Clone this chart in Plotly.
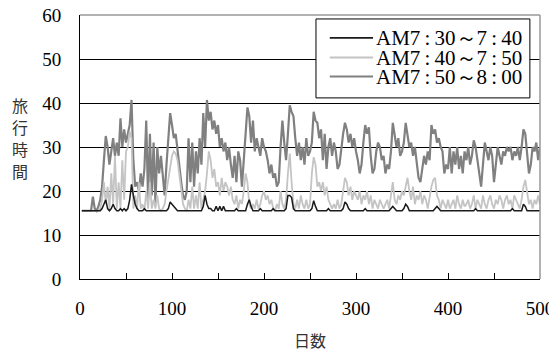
import plotly.graph_objects as go

days = list(range(2, 502, 2))

am750_800 = [
    15.5, 15.5, 15.5, 15.5, 15.5, 15.5, 18.7, 16.0, 15.5, 16.5,
    18, 21, 27, 32.5, 30, 26, 29, 32, 28, 31,
    28, 36.5, 30, 34, 31, 33, 35, 40.7, 27, 21,
    22, 20, 24, 21, 25, 36, 18, 33, 19, 31,
    17, 30, 24, 28, 23, 19, 26, 33, 37.7, 35,
    32, 33, 29, 26, 22, 19, 18, 20, 32, 22,
    31, 21, 29, 24, 32, 26, 37.7, 30, 40.7, 36,
    38, 34, 36, 33, 35, 30, 32, 29, 31, 27,
    30, 26, 23, 28, 22, 29, 27, 21, 28, 33,
    39, 37, 31, 36, 29, 32, 30, 28, 32, 30,
    29, 27, 24, 26, 23, 24, 21, 22, 30, 36,
    31, 27, 33, 39.5, 38, 37, 32, 28, 31, 27,
    30, 26, 32, 28, 29, 31, 38, 36, 35.5, 32,
    34, 27, 33, 25, 30, 32, 28, 31, 29, 25,
    26, 30, 33, 35.5, 34, 31, 33, 30, 32, 29,
    27, 24, 26, 31, 35, 33, 34.5, 28, 24, 25,
    29, 31, 30, 27, 28, 24, 26, 25, 29, 35.5,
    33, 30, 32, 28, 29, 31, 35.5, 33, 30, 31,
    28, 30, 26, 23, 22, 25, 28, 26, 29, 27,
    35, 33, 34, 31, 32, 30, 29, 24, 26, 25,
    30, 24, 29, 26, 30, 25, 28, 24, 29, 27,
    30, 26, 28, 31.5, 30, 27, 24, 21, 26, 31,
    29, 27, 30, 28, 22, 27, 30, 28, 26, 29,
    28, 30, 29, 30, 27, 29, 28, 30, 27, 30,
    34, 33, 28, 24, 26, 30, 29, 31, 27, 30,
]

am740_750 = [
    15.5, 15.5, 15.5, 15.5, 15.5, 15.5, 15.5, 15.5, 15.5, 15.5,
    16, 18, 22, 17, 21, 16, 24, 17, 28, 16,
    22, 16, 27, 18, 29, 30, 33.5, 32, 16, 19,
    16, 22, 16, 17, 15.5, 20, 16, 22, 16, 18,
    16, 19, 16, 15.5, 16, 17, 20, 23, 26, 28,
    29, 28.5, 27, 24, 20, 17, 16, 15.5, 18, 16,
    21, 16, 19, 16, 22, 16, 18, 20, 24, 29,
    27, 23, 25, 21, 22, 19, 23, 20, 22, 21,
    19, 21, 18, 17, 19, 16, 18, 17, 20, 24,
    22, 17, 16, 17, 16, 18, 16, 17, 19, 20,
    18, 19, 17, 18, 16, 15.5, 17, 16, 20, 17,
    16, 18, 24, 28.5, 22, 17, 16, 18, 16, 19,
    17, 16, 18, 16, 17, 24, 27.7, 26, 21, 22,
    20, 22, 19, 21, 18, 17, 16, 17, 16, 18,
    16, 17, 20, 23, 22, 19, 21, 18, 20, 19,
    18, 20, 17, 19, 18, 20, 17, 19, 16, 18,
    17, 16, 18, 17, 16, 17, 18, 16, 19, 22,
    18, 17, 19, 18, 20, 19, 21, 23, 20, 18,
    21, 17, 19, 18, 20, 17, 19, 18, 16, 19,
    21, 22.5, 23, 19, 18, 16, 18, 17, 16, 18,
    16, 17, 18, 16, 19, 17, 16, 18, 16.5, 17,
    18, 16, 17, 19, 16, 18, 17, 16, 19, 17,
    16, 18, 19, 17, 16, 18, 17, 19, 18, 16,
    18, 19, 17, 18, 16, 19, 18, 17, 16, 18,
    21, 22.5, 20, 17, 18, 16, 18, 17, 19, 17,
]

am730_740 = [
    15.5, 15.5, 15.5, 15.5, 15.5, 15.5, 15.5, 15.5, 15.5, 15.5,
    15.5, 16, 17, 18, 16, 15.5, 16, 17, 16, 15.5,
    15.5, 16, 15.5, 16, 15.5, 16, 18, 21.5, 19, 17,
    16, 15.5, 15.5, 15.5, 16, 15.5, 15.5, 15.5, 15.5, 15.5,
    15.5, 15.5, 15.5, 15.5, 15.5, 15.5, 15.5, 16, 17.5, 17,
    16.5, 16, 15.5, 15.5, 15.5, 15.5, 15.5, 15.5, 15.5, 15.5,
    15.5, 15.5, 15.5, 15.5, 15.5, 15.5, 16.5, 19, 17, 16,
    16, 15.5, 15.5, 16.5, 15.5, 16.5, 15.5, 16.5, 15.5, 15.5,
    15.5, 15.5, 15.5, 15.5, 16, 15.5, 15.5, 15.5, 15.5, 15.5,
    17, 18, 16.5, 15.5, 15.5, 15.5, 15.5, 16, 15.5, 15.5,
    15.5, 15.5, 15.5, 15.5, 16, 15.5, 15.5, 15.5, 15.5, 15.5,
    15.5, 16, 19, 19, 18.5, 16, 15.5, 15.5, 15.5, 15.5,
    15.5, 15.5, 15.5, 15.5, 15.5, 16, 17.8, 16.5, 15.5, 15.5,
    15.5, 15.5, 15.5, 15.5, 16, 15.5, 15.5, 15.5, 15.5, 15.5,
    15.5, 15.5, 16, 17.5, 17, 16, 15.5, 15.5, 15.5, 15.5,
    15.5, 15.5, 15.5, 15.5, 16, 15.5, 15.5, 15.5, 15.5, 15.5,
    15.5, 15.5, 15.5, 15.5, 15.5, 15.5, 15.5, 15.5, 16, 16.5,
    16, 15.5, 15.5, 15.5, 15.5, 16, 17, 16.5, 15.5, 15.5,
    15.5, 15.5, 15.5, 15.5, 15.5, 15.5, 15.5, 15.5, 15.5, 15.5,
    15.5, 15.5, 16, 16.5, 16, 15.5, 15.5, 15.5, 15.5, 15.5,
    15.5, 15.5, 15.5, 15.5, 15.5, 15.5, 15.5, 15.5, 15.5, 15.5,
    15.5, 15.5, 15.5, 15.5, 16, 15.5, 15.5, 15.5, 15.5, 15.5,
    15.5, 15.5, 15.5, 15.5, 15.5, 15.5, 15.5, 15.5, 15.5, 15.5,
    15.5, 15.5, 15.5, 15.5, 16, 15.5, 15.5, 15.5, 15.5, 15.5,
    17, 16.5, 15.5, 15.5, 15.5, 15.5, 15.5, 15.5, 15.5, 15.5,
]

names = ["AM7\u2009:\u200930～7\u2009:\u200940",
         "AM7\u2009:\u200940～7\u2009:\u200950",
         "AM7\u2009:\u200950～8\u2009:\u200900"]
colors = ["#1a1a1a", "#c4c4c4", "#808080"]
x_ticks = [0, 100, 200, 300, 400, 500]
y_ticks = [0, 10, 20, 30, 40, 50, 60]
x_title = "日数"
y_title_chars = ["旅", "行", "時", "間"]

serif = "Liberation Serif"
jp = "Noto Sans CJK JP"

fig = go.Figure()
fig.add_trace(go.Scatter(x=days, y=am750_800, mode="lines", name=names[2],
                         line=dict(color=colors[2], width=2.2)))
fig.add_trace(go.Scatter(x=days, y=am740_750, mode="lines", name=names[1],
                         line=dict(color=colors[1], width=1.8)))
fig.add_trace(go.Scatter(x=days, y=am730_740, mode="lines", name=names[0],
                         line=dict(color=colors[0], width=1.5)))

annotations = []
for i, ch in enumerate(y_title_chars):
    annotations.append(dict(text=ch, xref="paper", yref="paper",
                            x=-0.13, y=0.659 - i * 0.0835,
                            xanchor="center", yanchor="middle", showarrow=False,
                            font=dict(family=jp, size=16, color="#333333")))
annotations.append(dict(text=x_title, xref="paper", yref="paper", x=0.5, y=-0.231,
                        xanchor="center", yanchor="middle", showarrow=False,
                        font=dict(family=jp, size=16, color="#333333")))

shapes = [
    dict(type="line", xref="paper", yref="paper", x0=0, x1=1, y0=1, y1=1,
         line=dict(color="#999999", width=1.5), layer="above"),
    dict(type="line", xref="paper", yref="paper", x0=1, x1=1, y0=0, y1=1,
         line=dict(color="#999999", width=1.5), layer="above"),
    dict(type="rect", xref="paper", yref="paper", x0=0.513, x1=0.978,
         y0=0.686, y1=0.985, line=dict(color="black", width=1),
         fillcolor="white", layer="above"),
]
row_y = [0.913, 0.839, 0.767]
for name, col, yy in zip(names, colors, row_y):
    shapes.append(dict(type="line", xref="paper", yref="paper", x0=0.543, x1=0.637,
                       y0=yy, y1=yy, line=dict(color=col, width=1.8), layer="above"))
    annotations.append(dict(text=name, xref="paper", yref="paper", x=0.639, y=yy,
                            xanchor="left", yanchor="middle", showarrow=False,
                            font=dict(family=serif, size=21, color="black")))

fig.update_layout(
    width=549, height=343,
    margin=dict(l=72, r=17, t=7, b=72, autoexpand=False),
    paper_bgcolor="white", plot_bgcolor="white",
    font=dict(family=serif, size=19, color="black"),
    showlegend=False,
    xaxis=dict(range=[0, 500], tickvals=x_ticks, ticks="inside", ticklen=6,
               tickcolor="black", showline=True, linecolor="black", linewidth=1,
               showgrid=False, zeroline=False, automargin=False,
               minor=dict(dtick=50, ticks="inside", ticklen=6, tickcolor="black"),
               ticklabelstandoff=12, ticklabeloverflow="allow",
               tickfont=dict(family=serif, size=19)),
    yaxis=dict(range=[0, 60], tickvals=y_ticks, showgrid=True, gridcolor="black",
               gridwidth=1, showline=True, linecolor="black", linewidth=1,
               zeroline=False, ticks="", automargin=False, ticklabelstandoff=14,
               ticklabeloverflow="allow",
               tickfont=dict(family=serif, size=19)),
    shapes=shapes,
    annotations=annotations,
)

fig.write_html("out.html")
